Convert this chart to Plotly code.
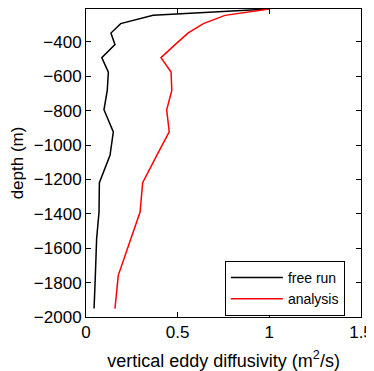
import plotly.graph_objects as go

depth = [-209, -246, -294, -349, -416, -492, -576, -682, -795, -924, -1060, -1219, -1390, -1544, -1758, -1951]
free_run = [1.0, 0.366, 0.189, 0.136, 0.158, 0.086, 0.122, 0.116, 0.098, 0.149, 0.131, 0.073, 0.071, 0.058, 0.051, 0.044]
analysis = [1.0, 0.758, 0.64, 0.556, 0.486, 0.409, 0.464, 0.468, 0.44, 0.454, 0.386, 0.309, 0.295, 0.245, 0.176, 0.158]

x_ticks = [0, 0.5, 1, 1.5]
x_tick_text = ["0", "0.5", "1", "1.5"]
y_ticks = [-2000, -1800, -1600, -1400, -1200, -1000, -800, -600, -400]
y_tick_text = ["\u22122000", "\u22121800", "\u22121600", "\u22121400", "\u22121200", "\u22121000", "\u2212800", "\u2212600", "\u2212400"]

FONT = "Liberation Sans, Arial, sans-serif"

fig = go.Figure()
fig.add_trace(go.Scatter(x=free_run, y=depth, mode="lines", name="free run",
                         line=dict(color="black", width=1.5)))
fig.add_trace(go.Scatter(x=analysis, y=depth, mode="lines", name="analysis",
                         line=dict(color="red", width=1.5)))

axis_common = dict(showline=True, mirror="allticks", linecolor="black", linewidth=1,
                   ticks="inside", ticklen=5, tickcolor="black", tickwidth=1,
                   showgrid=False, zeroline=False,
                   tickfont=dict(family=FONT, size=17, color="black"))

fig.update_xaxes(range=[0, 1.5], tickvals=x_ticks, ticktext=x_tick_text,
                 title=dict(text="vertical eddy diffusivity (m<sup>2</sup>/s)",
                            font=dict(family=FONT, size=18, color="black"), standoff=17),
                 **axis_common)
fig.update_yaxes(range=[-2000, -209], tickvals=y_ticks, ticktext=y_tick_text,
                 title=dict(text="depth (m)", font=dict(family=FONT, size=17, color="black"), standoff=8),
                 **axis_common)

# the page body adds an 8px offset, so the figure is sized/margined to compensate
fig.update_layout(
    width=366, height=363,
    margin=dict(l=78, r=13, t=1, b=54, autoexpand=False),
    paper_bgcolor="white", plot_bgcolor="white",
    showlegend=True,
    legend=dict(x=0.505, y=0.093, xanchor="left", yanchor="middle",
                bgcolor="white", bordercolor="black", borderwidth=1,
                font=dict(family=FONT, size=14, color="black"),
                tracegroupgap=0, itemwidth=52),
)

fig.write_html("out.html")
